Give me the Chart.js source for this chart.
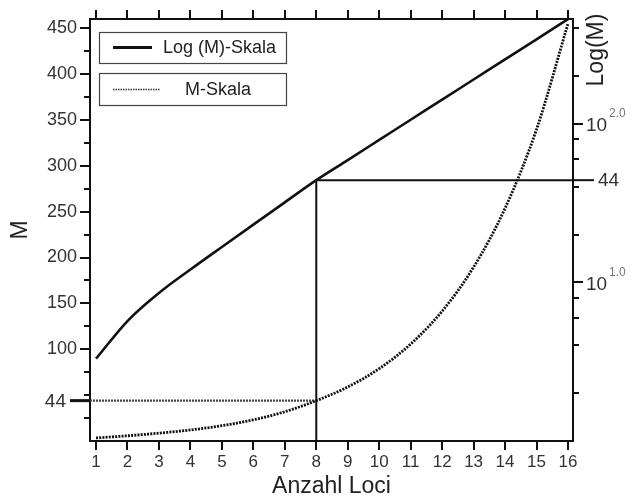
<!DOCTYPE html>
<html><head><meta charset="utf-8">
<script src="https://cdn.jsdelivr.net/npm/chart.js@4.4.1/dist/chart.umd.min.js"></script>
<style>html,body{margin:0;padding:0;background:#fff;}</style>
</head><body>
<canvas id="c" width="638" height="499"></canvas>
<script>
// ---- data ----
const loci = [1,2,3,4,5,6,7,8,9,10,11,12,13,14,15,16];
const mValues = [3.3,5.7,8.56,12.04,16.7,23.1,31.9,44,58.9,78.9,105.7,141.5,189.5,253.7,339.7,455];
const xTicks = [1,2,3,4,5,6,7,8,9,10,11,12,13,14,15,16];
const leftMajorTicks = [100,150,200,250,300,350,400,450];
const leftMinorTicks = [25,50,75,125,175,225,275,325,375,425];
const rightMajorTicks = [10,100];
const rightMinorTicks = [2,4,6,8,20,40,60,80,200,400];
const rightLabelTicks = [44];
const markLocus = 8;
const markM = 44;
const seriesLabels = ['Log (M)-Skala','M-Skala'];

const X_MIN = 0.809, X_MAX = 16.159;
const F = "'Liberation Sans', Arial, sans-serif";
const INK = '#111';

function hline(ctx,x1,x2,y){ctx.beginPath();ctx.moveTo(x1,y);ctx.lineTo(x2,y);ctx.stroke();}

const decor = {
  id:'decor',
  afterDraw(chart){
    const {ctx, chartArea:a} = chart;
    const y = chart.scales.y, y1 = chart.scales.y1;
    ctx.save();
    ctx.strokeStyle = INK; ctx.lineWidth = 2;
    leftMinorTicks.forEach(v=>{const p=Math.round(y.getPixelForValue(v)); hline(ctx,a.left-6,a.left,p);});
    rightMinorTicks.forEach(v=>{const p=Math.round(y1.getPixelForValue(v)); hline(ctx,a.right,a.right+6,p);});
    // long ticks at 44
    ctx.lineWidth = 3;
    hline(ctx, a.left-20, a.left, y.getPixelForValue(markM));
    ctx.lineWidth = 2;
    hline(ctx, a.right, a.right+21, y1.getPixelForValue(markM));
    // left 44 label
    ctx.fillStyle = '#333';
    ctx.font = '19px '+F; ctx.textAlign='right'; ctx.textBaseline='middle';
    ctx.fillText(String(markM), 66, y.getPixelForValue(markM)+1);
    // right 44 label
    ctx.textAlign='left';
    rightLabelTicks.forEach(v=>ctx.fillText(String(v), 598, y1.getPixelForValue(v)+1));
    // right 10^x labels
    rightMajorTicks.forEach(v=>{
      const p = y1.getPixelForValue(v);
      ctx.fillStyle = '#333';
      ctx.font = '19px '+F; ctx.textAlign='left'; ctx.textBaseline='middle';
      ctx.fillText('10', 586, p+2);
      ctx.fillStyle = '#777';
      ctx.font = '12px '+F;
      ctx.fillText(Math.log10(v).toFixed(1), 609, p-10);
    });
    // right title
    ctx.save();
    ctx.translate(597, 50); ctx.rotate(-Math.PI/2);
    ctx.fillStyle = '#222'; ctx.font = '23px '+F; ctx.textAlign='center'; ctx.textBaseline='middle';
    ctx.fillText('Log(M)', 0, 0);
    ctx.restore();
    // legend
    ctx.strokeStyle = '#444'; ctx.lineWidth = 1.2;
    ctx.strokeRect(99.5, 32.5, 187, 31);
    ctx.strokeRect(99.5, 73.5, 187, 32);
    ctx.strokeStyle = INK; ctx.lineWidth = 3;
    hline(ctx, 113, 152, 47.5);
    ctx.lineWidth = 1.6; ctx.setLineDash([1.5,1]); ctx.strokeStyle='#333';
    hline(ctx, 113, 160, 89.5);
    ctx.setLineDash([]);
    ctx.fillStyle = '#222'; ctx.font = '18px '+F; ctx.textAlign='left'; ctx.textBaseline='middle';
    ctx.fillText(seriesLabels[0], 163, 48);
    ctx.fillText(seriesLabels[1], 185, 90);
    ctx.restore();
  }
};

const setTicks = arr => s => { s.ticks = arr.map(v=>({value:v})); };
const baseGrid = {display:true, drawOnChartArea:false, drawTicks:true, tickLength:9, tickWidth:2, tickColor:INK, lineWidth:2};
const border = {display:true, color:INK, width:2};

new Chart(document.getElementById('c'), {
  type:'line',
  data:{datasets:[
    {label:seriesLabels[0], data:loci.map((x,i)=>({x, y:mValues[i]})), xAxisID:'x', yAxisID:'y1',
     borderColor:INK, borderWidth:2.6, pointRadius:0, cubicInterpolationMode:'monotone'},
    {label:seriesLabels[1], data:loci.map((x,i)=>({x, y:mValues[i]})), xAxisID:'x', yAxisID:'y',
     borderColor:'#111', borderWidth:2.8, borderDash:[2,1.2], pointRadius:0, cubicInterpolationMode:'monotone'},
    {label:'v', data:[{x:markLocus,y:markM},{x:markLocus,y:1}], xAxisID:'x', yAxisID:'y1',
     borderColor:INK, borderWidth:2, pointRadius:0},
    {label:'hR', data:[{x:markLocus,y:markM},{x:X_MAX,y:markM}], xAxisID:'x', yAxisID:'y1',
     borderColor:INK, borderWidth:2, pointRadius:0},
    {label:'hL', data:[{x:X_MIN,y:markM},{x:markLocus,y:markM}], xAxisID:'x', yAxisID:'y',
     borderColor:'#444', borderWidth:2.2, borderDash:[2,1], pointRadius:0}
  ]},
  options:{
    responsive:false, animation:false, devicePixelRatio:1,
    layout:{padding:0},
    plugins:{legend:{display:false}, tooltip:{enabled:false}},
    scales:{
      x:{type:'linear', position:'bottom', min:X_MIN, max:X_MAX,
        afterBuildTicks:setTicks(xTicks), afterFit:s=>{s.height=58;},
        grid:baseGrid, border,
        ticks:{font:{family:F,size:17}, color:'#333', padding:2, autoSkip:false, maxRotation:0},
        title:{display:true, text:'Anzahl Loci', color:'#222', font:{family:F,size:23,lineHeight:1}, padding:{top:0,bottom:1}}},
      xTop:{type:'linear', position:'top', min:X_MIN, max:X_MAX,
        afterBuildTicks:setTicks(xTicks), afterFit:s=>{s.height=19;},
        grid:baseGrid, border, ticks:{display:false}},
      y:{type:'linear', position:'left', min:0, max:460,
        afterBuildTicks:setTicks(leftMajorTicks), afterFit:s=>{s.width=90;},
        grid:Object.assign({}, baseGrid, {tickLength:10}), border,
        ticks:{font:{family:F,size:18,lineHeight:1}, color:'#333', padding:3, autoSkip:false},
        title:{display:true, text:'M', color:'#222', font:{family:F,size:23,lineHeight:1}, padding:{top:9,bottom:0}}},
      y1:{type:'logarithmic', position:'right', min:1, max:456,
        afterBuildTicks:setTicks(rightMajorTicks), afterFit:s=>{s.width=65;},
        grid:Object.assign({}, baseGrid, {tickLength:10}), border,
        ticks:{display:false}}
    }
  },
  plugins:[decor]
});
</script>
</body></html>
